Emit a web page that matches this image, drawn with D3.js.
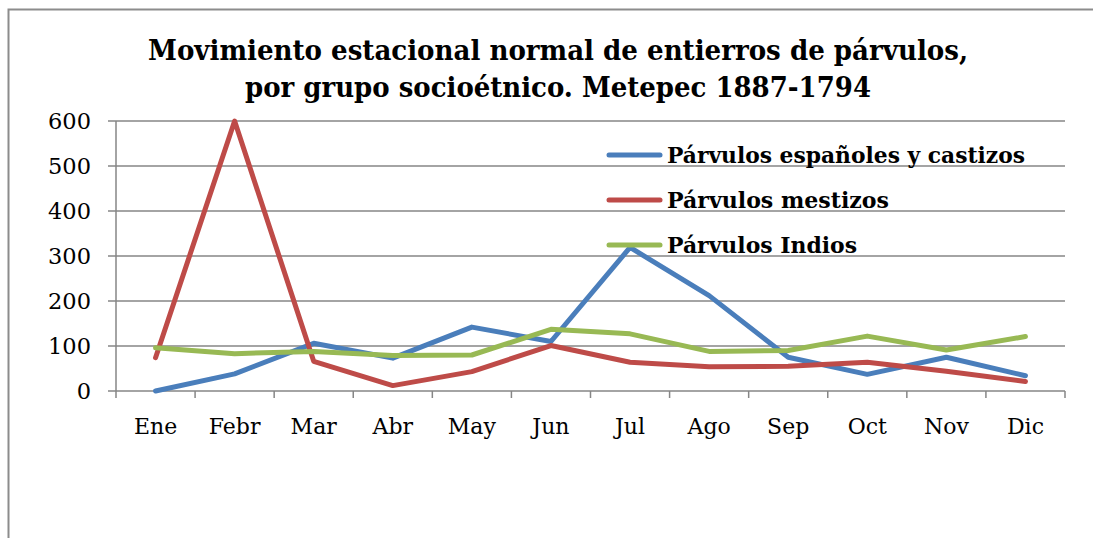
<!DOCTYPE html>
<html>
<head>
<meta charset="utf-8">
<script src="https://cdn.jsdelivr.net/npm/d3@7"></script>
<style>
  html, body { margin: 0; padding: 0; background: #fff; overflow: hidden; }
  svg { display: block; }
  text { font-family: "DejaVu Serif", "Liberation Serif", serif; fill: #000; }
</style>
</head>
<body>
<svg id="chart" width="1093" height="538"></svg>
<script>
const months = ["Ene", "Febr", "Mar", "Abr", "May", "Jun", "Jul", "Ago", "Sep", "Oct", "Nov", "Dic"];
const espanoles = [0, 38, 106, 73, 142, 110, 319, 212, 75, 37, 75, 34];
const mestizos = [74, 600, 66, 12, 43, 101, 64, 54, 55, 64, 44, 21];
const indios = [96, 83, 88, 79, 80, 137, 127, 88, 90, 122, 91, 121];
const yTicks = [0, 100, 200, 300, 400, 500, 600];
const seriesNames = ["Párvulos españoles y castizos", "Párvulos mestizos", "Párvulos Indios"];
const seriesColors = ["#4A7EBB", "#BE4B48", "#98B954"];
const titleLines = ["Movimiento estacional normal de entierros de párvulos,", "por grupo socioétnico. Metepec 1887-1794"];

const series = [espanoles, mestizos, indios];

const svg = d3.select("#chart");

// fit a text element to a given width
function fitWidth(sel, w) {
  sel.each(function () {
    const node = this;
    const cur = node.getComputedTextLength();
    if (cur > 0) {
      d3.select(node).attr("textLength", w).attr("lengthAdjust", "spacingAndGlyphs");
    }
  });
}

// outer chart border (clipped by the window on right and bottom)
svg.append("rect")
  .attr("x", 8.5).attr("y", 9.5)
  .attr("width", 1200).attr("height", 700)
  .attr("fill", "none").attr("stroke", "#8c8c8c").attr("stroke-width", 2);

const plotLeft = 116, plotRight = 1065, plotTop = 121, plotBottom = 391;

const x = d3.scaleBand().domain(months).range([plotLeft, plotRight]).paddingInner(0).paddingOuter(0);
const y = d3.scaleLinear().domain([0, 600]).range([plotBottom, plotTop]);

// gridlines
svg.append("g")
  .selectAll("line")
  .data(yTicks)
  .join("line")
  .attr("x1", plotLeft - 8).attr("x2", plotRight)
  .attr("y1", d => y(d)).attr("y2", d => y(d))
  .attr("stroke", "#868686").attr("stroke-width", 1.5);

// y axis line
svg.append("line")
  .attr("x1", plotLeft).attr("x2", plotLeft)
  .attr("y1", plotTop).attr("y2", plotBottom)
  .attr("stroke", "#868686").attr("stroke-width", 1.5);

// y labels
svg.append("g")
  .selectAll("text")
  .data(yTicks)
  .join("text")
  .attr("x", 91).attr("y", d => y(d))
  .attr("dy", "0.36em")
  .attr("text-anchor", "end")
  .attr("font-size", 22.5)
  .text(d => d);

// x axis ticks
const xTickPos = months.map(m => x(m)).concat([plotRight]);
svg.append("g")
  .selectAll("line")
  .data(xTickPos)
  .join("line")
  .attr("x1", d => d).attr("x2", d => d)
  .attr("y1", plotBottom).attr("y2", plotBottom + 7)
  .attr("stroke", "#868686").attr("stroke-width", 1.5);

// x labels
svg.append("g")
  .selectAll("text")
  .data(months)
  .join("text")
  .attr("x", d => x(d) + x.bandwidth() / 2)
  .attr("y", 434)
  .attr("text-anchor", "middle")
  .attr("font-size", 22)
  .text(d => d);

// lines
const line = d3.line()
  .x((d, i) => x(months[i]) + x.bandwidth() / 2)
  .y(d => y(d));

svg.append("g")
  .selectAll("path")
  .data(series)
  .join("path")
  .attr("d", d => line(d))
  .attr("fill", "none")
  .attr("stroke", (d, i) => seriesColors[i])
  .attr("stroke-width", 5)
  .attr("stroke-linejoin", "round")
  .attr("stroke-linecap", "round");

// legend
const legendWidths = [358, 222, 190];
const legend = svg.append("g");
seriesNames.forEach((name, i) => {
  const ly = 155 + i * 45;
  legend.append("line")
    .attr("x1", 609).attr("x2", 660)
    .attr("y1", ly).attr("y2", ly)
    .attr("stroke", seriesColors[i]).attr("stroke-width", 5)
    .attr("stroke-linecap", "round");
  const t = legend.append("text")
    .attr("x", 667).attr("y", ly + 8)
    .attr("font-size", 22.5)
    .attr("font-weight", "bold")
    .text(name);
  fitWidth(t, legendWidths[i]);
});

// title
const titleWidths = [820, 626];
svg.append("g")
  .selectAll("text")
  .data(titleLines)
  .join("text")
  .attr("x", 558)
  .attr("y", (d, i) => 60 + i * 37)
  .attr("text-anchor", "middle")
  .attr("font-size", 28)
  .attr("font-weight", "bold")
  .text(d => d)
  .each(function (d, i) { fitWidth(d3.select(this), titleWidths[i]); });
</script>
</body>
</html>
